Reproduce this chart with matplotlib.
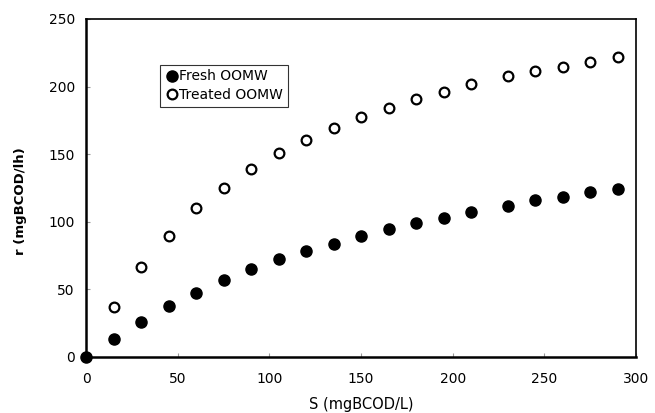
import matplotlib
matplotlib.use("Agg")
import matplotlib.pyplot as plt

# === DATA ===
s_fresh = [0, 15, 30, 45, 60, 75, 90, 105, 120, 135, 150, 165, 180, 195, 210, 230, 245, 260, 275, 290]
r_fresh = [0, 13.5, 26, 38, 47.6, 57, 65, 72.3, 78.4, 83.8, 89.7, 94.4, 99.3, 103, 107.5, 112, 116, 118.6, 121.8, 124]

s_treated = [15, 30, 45, 60, 75, 90, 105, 120, 135, 150, 165, 180, 195, 210, 230, 245, 260, 275, 290]
r_treated = [37, 66.3, 89.7, 110, 125.2, 139, 151, 160.3, 169.6, 177.3, 184, 191, 195.8, 201.7, 207.6, 211.3, 214.7, 218.2, 221.7]

x_ticks = [0, 50, 100, 150, 200, 250, 300]
y_ticks = [0, 50, 100, 150, 200, 250]

plt.rcParams['font.family'] = ['DejaVu Sans']

fig = plt.figure(figsize=(6.55, 4.13), dpi=100)
ax = fig.add_axes([0.1313, 0.1356, 0.8397, 0.8184])

ax.plot(s_fresh, r_fresh, 'o', color='black', markersize=8,
        linestyle='none', label='Fresh OOMW', clip_on=False, zorder=3)
ax.plot(s_treated, r_treated, 'o', markerfacecolor='white', markeredgecolor='black',
        markeredgewidth=1.6, markersize=7, linestyle='none', label='Treated OOMW',
        clip_on=False, zorder=3)

ax.set_xlim(0, 300)
ax.set_ylim(0, 250)
ax.set_xticks(x_ticks)
ax.set_yticks(y_ticks)
ax.tick_params(direction='in', length=3, width=0.8, color='#999999', labelsize=10)
ax.tick_params(axis='x', pad=11)
ax.tick_params(axis='y', pad=8)

for side in ['left', 'bottom']:
    ax.spines[side].set_linewidth(1.8)
for side in ['top', 'right']:
    ax.spines[side].set_linewidth(1.2)

ax.set_xlabel('S (mgBCOD/L)', fontsize=10.5)
ax.set_ylabel('r (mgBCOD/lh)', fontsize=9.5, fontweight='bold')
ax.xaxis.set_label_coords(0.5, -0.118)
ax.yaxis.set_label_coords(-0.107, 0.46)

leg = ax.legend(loc='upper left', bbox_to_anchor=(0.135, 0.865), fontsize=10,
                frameon=True, fancybox=False, handletextpad=0.0,
                handlelength=1.0, borderpad=0.35, labelspacing=0.3,
                borderaxespad=0)
leg.get_frame().set_edgecolor('black')
leg.get_frame().set_linewidth(0.8)

fig.savefig('out.png', dpi=100)
